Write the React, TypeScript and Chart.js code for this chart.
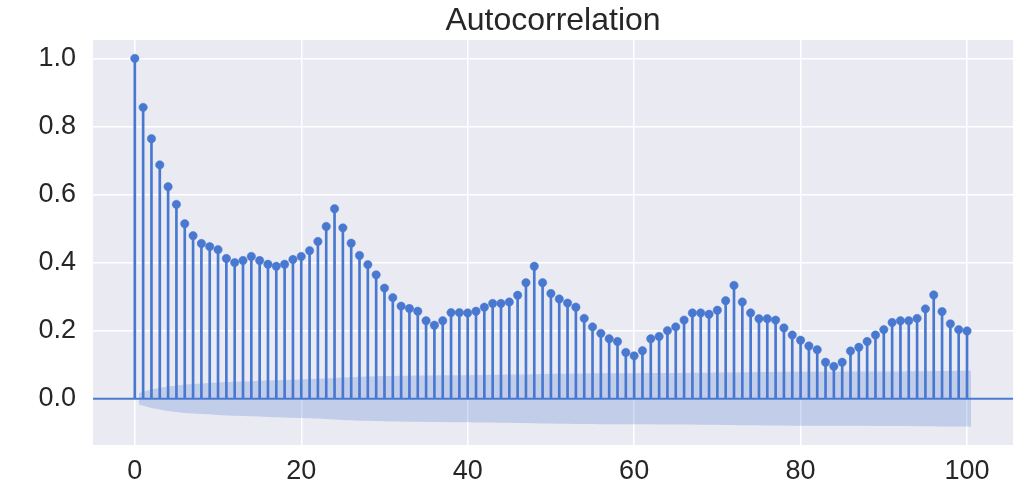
import React, { useEffect, useRef } from "react";
import { Chart, registerables } from "chart.js";

Chart.register(...registerables);

const title = "Autocorrelation";

const lags = [
  0, 1, 2, 3, 4, 5, 6, 7, 8, 9, 10,
  11, 12, 13, 14, 15, 16, 17, 18, 19, 20,
  21, 22, 23, 24, 25, 26, 27, 28, 29, 30,
  31, 32, 33, 34, 35, 36, 37, 38, 39, 40,
  41, 42, 43, 44, 45, 46, 47, 48, 49, 50,
  51, 52, 53, 54, 55, 56, 57, 58, 59, 60,
  61, 62, 63, 64, 65, 66, 67, 68, 69, 70,
  71, 72, 73, 74, 75, 76, 77, 78, 79, 80,
  81, 82, 83, 84, 85, 86, 87, 88, 89, 90,
  91, 92, 93, 94, 95, 96, 97, 98, 99, 100,
];

const acfValues = [
  1.0, 0.856, 0.764, 0.687, 0.623, 0.571, 0.514, 0.479, 0.456, 0.447, 0.438,
  0.412, 0.4, 0.406, 0.418, 0.406, 0.395, 0.389, 0.395, 0.409, 0.418,
  0.435, 0.462, 0.506, 0.558, 0.502, 0.457, 0.421, 0.394, 0.364, 0.325,
  0.297, 0.272, 0.265, 0.257, 0.229, 0.216, 0.229, 0.253, 0.253, 0.252,
  0.257, 0.269, 0.28, 0.28, 0.284, 0.304, 0.341, 0.389, 0.341, 0.309,
  0.293, 0.281, 0.269, 0.236, 0.211, 0.192, 0.176, 0.168, 0.136, 0.126,
  0.141, 0.176, 0.183, 0.2, 0.211, 0.231, 0.252, 0.252, 0.248, 0.26,
  0.288, 0.333, 0.284, 0.252, 0.235, 0.235, 0.231, 0.208, 0.187, 0.172,
  0.155, 0.144, 0.107, 0.095, 0.107, 0.14, 0.151, 0.168, 0.187, 0.203,
  0.224, 0.229, 0.229, 0.236, 0.264, 0.305, 0.256, 0.22, 0.203, 0.199,
];

// half-width of the shaded confidence band, lags 1..100
const bandHalfWidth = [
  0.017, 0.027, 0.032, 0.036, 0.039, 0.042, 0.0435, 0.045, 0.046, 0.0475,
  0.049, 0.05, 0.0506, 0.0515, 0.0525, 0.0534, 0.0542, 0.055, 0.0558, 0.0567,
  0.0576, 0.0585, 0.0596, 0.0608, 0.0623, 0.0634, 0.0644, 0.0651, 0.0658, 0.0664,
  0.0669, 0.0673, 0.0676, 0.0679, 0.0682, 0.0684, 0.0686, 0.0688, 0.0691, 0.0693,
  0.0696, 0.0699, 0.0702, 0.0705, 0.0708, 0.0711, 0.0715, 0.072, 0.0726, 0.073,
  0.0734, 0.0737, 0.074, 0.0743, 0.0745, 0.0747, 0.0748, 0.0749, 0.075, 0.0751,
  0.0752, 0.0753, 0.0754, 0.0756, 0.0757, 0.0759, 0.0761, 0.0763, 0.0765, 0.0767,
  0.077, 0.0773, 0.0777, 0.078, 0.0783, 0.0785, 0.0787, 0.0789, 0.0791, 0.0792,
  0.0793, 0.0794, 0.0794, 0.0795, 0.0795, 0.0796, 0.0797, 0.0798, 0.0799, 0.08,
  0.0801, 0.0803, 0.0805, 0.0807, 0.0809, 0.0811, 0.0814, 0.0816, 0.0818, 0.082,
];

const xTicks = [0, 20, 40, 60, 80, 100];
const yTicks = [0, 0.2, 0.4, 0.6, 0.8, 1.0];
const yTickLabels = ["0.0", "0.2", "0.4", "0.6", "0.8", "1.0"];

const X_MIN = -5.025;
const X_MAX = 105.525;
const Y_MIN = -0.136;
const Y_MAX = 1.054;

const BLUE = "#4878D0";
const BAND = "rgba(72,120,208,0.25)";
const FONT = '"Liberation Sans", Arial, sans-serif';
const TEXT = "#262626";

export default function App() {
  const ref = useRef<HTMLCanvasElement | null>(null);

  useEffect(() => {
    if (!ref.current) return;

    const bandLags = lags.slice(1).map((l, i, arr) =>
      i === 0 ? l - 0.5 : i === arr.length - 1 ? l + 0.5 : l
    );
    const upper = bandLags.map((x, i) => ({ x, y: bandHalfWidth[i] }));
    const lower = bandLags.map((x, i) => ({ x, y: -bandHalfWidth[i] }));
    const points = lags.map((x, i) => ({ x, y: acfValues[i] }));

    const titlePlugin = {
      id: "acfTitle",
      afterDraw(chart: any) {
        const { ctx, chartArea } = chart;
        ctx.save();
        ctx.font = `32px ${FONT}`;
        ctx.fillStyle = TEXT;
        ctx.textAlign = "center";
        ctx.textBaseline = "alphabetic";
        ctx.fillText(title, (chartArea.left + chartArea.right) / 2, 30);
        ctx.restore();
      },
    };

    const chart = new Chart(ref.current, {
      type: "scatter",
      data: {
        datasets: [
          {
            type: "line",
            data: upper,
            borderWidth: 0,
            borderColor: "rgba(0,0,0,0)",
            backgroundColor: BAND,
            pointRadius: 0,
            fill: "+1",
            order: 0,
          } as any,
          {
            type: "line",
            data: lower,
            borderWidth: 0,
            borderColor: "rgba(0,0,0,0)",
            pointRadius: 0,
            fill: false,
            order: 0,
          } as any,
          {
            type: "scatter",
            data: points,
            backgroundColor: BLUE,
            borderColor: BLUE,
            pointRadius: 4.2,
            borderWidth: 0.5,
            order: 1,
          } as any,
          {
            type: "line",
            data: [
              { x: X_MIN, y: 0 },
              { x: X_MAX, y: 0 },
            ],
            borderColor: BLUE,
            borderWidth: 2,
            pointRadius: 0,
            fill: false,
            order: 2,
          } as any,
          {
            type: "bar",
            data: points,
            backgroundColor: BLUE,
            borderWidth: 0,
            barThickness: 2,
            order: 3,
          } as any,
        ],
      },
      options: {
        animation: false,
        responsive: false,
        events: [],
        layout: { padding: { top: 40, right: 16, left: 0, bottom: 0 } },
        plugins: {
          legend: { display: false },
          tooltip: { enabled: false },
          title: { display: false },
        },
        scales: {
          x: {
            type: "linear",
            min: X_MIN,
            max: X_MAX,
            offset: false,
            border: { display: false },
            grid: { color: "#ffffff", lineWidth: 1.5, drawTicks: false, offset: false },
            afterBuildTicks: (scale: any) => {
              scale.ticks = xTicks.map((v) => ({ value: v }));
            },
            afterFit: (scale: any) => {
              scale.height = 44;
            },
            ticks: {
              autoSkip: false,
              maxRotation: 0,
              padding: 10,
              color: TEXT,
              font: { family: FONT, size: 27 },
              callback: (v: any) => String(v),
            },
          },
          y: {
            type: "linear",
            min: Y_MIN,
            max: Y_MAX,
            border: { display: false },
            grid: { color: "#ffffff", lineWidth: 1.5, drawTicks: false },
            afterBuildTicks: (scale: any) => {
              scale.ticks = yTicks.map((v) => ({ value: v }));
            },
            afterFit: (scale: any) => {
              scale.width = 93;
            },
            ticks: {
              autoSkip: false,
              padding: 17,
              color: TEXT,
              font: { family: FONT, size: 27 },
              callback: (v: any) => {
                const idx = yTicks.findIndex((t) => Math.abs(t - v) < 1e-9);
                return idx >= 0 ? yTickLabels[idx] : "";
              },
            },
          },
        },
      },
      plugins: [
        titlePlugin,
        {
          id: "bg",
          beforeDraw(chart: any) {
            const { ctx, chartArea } = chart;
            ctx.save();
            ctx.fillStyle = "#EAEAF2";
            ctx.fillRect(
              chartArea.left,
              chartArea.top,
              chartArea.right - chartArea.left,
              chartArea.bottom - chartArea.top
            );
            ctx.restore();
          },
        },
      ],
    } as any);

    return () => chart.destroy();
  }, []);

  return (
    <div
      style={{
        position: "absolute",
        left: 0,
        top: 0,
        width: 1029,
        height: 489,
        background: "#ffffff",
      }}
    >
      <canvas ref={ref} width={1029} height={489} />
    </div>
  );
}
